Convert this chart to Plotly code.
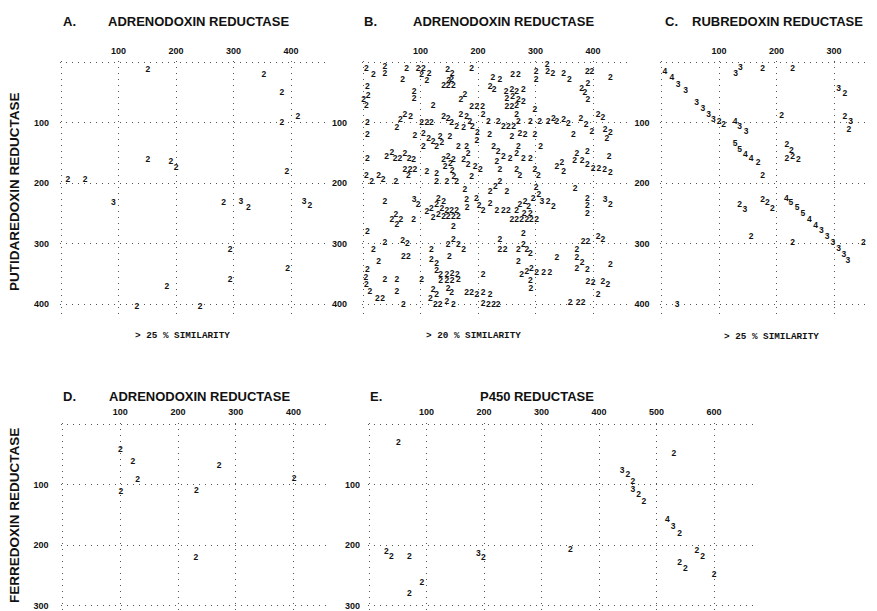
import plotly.graph_objects as go

# ---------------- data: residue positions of similarity scores ----------------
# Panel A: putidaredoxin reductase (y) vs adrenodoxin reductase (x), > 25 %
a_twos = [(151, 12), (353, 21), (384, 50), (384, 100), (412, 90), (151, 161), (191, 164),
          (200, 175), (393, 181), (12, 195), (42, 195), (283, 232), (326, 241), (433, 238),
          (294, 310), (394, 341), (294, 360), (184, 371), (132, 405), (242, 405)]
a_threes = [(91, 233), (313, 230), (423, 230)]

# Panel B: putidaredoxin reductase vs adrenodoxin reductase, > 20 %
b_twos = [
    (6, 10), (18, 21), (38, 7), (38, 19), (76, 10), (69, 29), (96, 10), (105, 10), (115, 19),
    (102, 21), (111, 30), (147, 12), (155, 19), (149, 30), (189, 10), (226, 25), (238, 29),
    (260, 21), (270, 21), (301, 15), (320, 4), (321, 16), (330, 19), (301, 29), (349, 19), (359, 29),
    (390, 16), (398, 16), (430, 26), (380, 44), (391, 36), (386, 51), (391, 62), (409, 87),
    (417, 92), (379, 94), (388, 104), (398, 115), (421, 112), (430, 117), (424, 127), (390, 148),
    (428, 156), (381, 163), (390, 170), (400, 176), (410, 176), (420, 178), (430, 183), (390, 226),
    (390, 238), (390, 250), (430, 236), (409, 289), (417, 294), (383, 297), (391, 297), (381, 332),
    (390, 344), (430, 335), (391, 363), (400, 365), (417, 363), (426, 368), (360, 398), (374, 398),
    (383, 398), (409, 384),
    (89, 49), (89, 60), (7.5, 41), (122, 72), (140, 39), (148, 39), (157, 39), (154, 29), (170, 62),
    (177, 54), (189, 73), (198, 73), (208, 73), (221, 41), (228, 46), (249, 49), (259, 46), (267, 49),
    (279, 46), (250, 60), (260, 57), (270, 62), (250, 73), (259, 73), (267, 72), (279, 65), (299, 79),
    (1, 62), (9, 56), (6, 72),
    (7.5, 100), (59, 109), (65, 95), (73, 87), (83, 90), (102, 100), (111, 100), (119, 100), (140, 90),
    (148, 93), (154, 100), (163, 107), (170, 86), (180, 90), (186, 98), (190, 106), (199, 116),
    (175, 109), (209, 87), (218, 98), (235, 98), (244, 107), (253, 107), (262, 107), (267, 86),
    (270, 98), (273, 118), (282, 120), (291, 98), (307, 98), (322, 98), (331, 94), (337, 98), (349, 95),
    (357, 102), (366, 120), (7.5, 120), (90, 122), (105, 118), (114, 126), (122, 131), (134, 123),
    (151, 123), (198, 129), (220, 120), (259, 123), (299, 120),
    (105, 140), (128, 140), (137, 133), (166, 140), (180, 140), (183, 151), (227, 140),
    (235, 148), (244, 156), (256, 159), (267, 152), (270, 140), (279, 159), (291, 159), (309, 140),
    (372, 151), (368, 163),
    (7.5, 159), (41, 156), (50, 149), (56, 159), (64, 159), (73, 151), (80, 159), (88, 162), (73, 178),
    (82, 178), (90, 178), (79, 187), (111, 181), (128, 184), (140, 162), (148, 156), (157, 162),
    (143, 173), (152, 168), (155, 180), (158, 190), (175, 162), (183, 170), (195, 173), (204, 178),
    (238, 178), (233, 164), (267, 178), (273, 188), (299, 178), (305, 187), (337, 173), (346, 167),
    (349, 181),
    (6, 188), (15, 198), (27, 187), (35, 195), (57, 198), (128, 198), (146, 198), (163, 198), (189, 189),
    (177, 211), (221, 214), (230, 206), (238, 198), (250, 214), (301, 207), (306, 219), (369, 209),
    (38, 231), (96, 236), (111, 247), (119, 242), (128, 236), (137, 242), (131, 225), (140, 231),
    (146, 245), (154, 245), (163, 245), (180, 228), (181, 240), (197, 226), (202, 238),
    (209, 245), (221, 234), (233, 245), (244, 245), (253, 245), (267, 245), (273, 236), (282, 230),
    (288, 239), (296, 225), (322, 230), (331, 239),
    (50, 261), (57, 253), (66, 261), (59, 269), (88, 261), (122, 258), (131, 253), (140, 256),
    (148, 256), (157, 256), (166, 256), (157, 272), (259, 261), (267, 261), (276, 261), (285, 261),
    (293, 261), (302, 261), (280, 251), (291, 250),
    (7.5, 281), (38, 298), (18, 310), (69, 295), (77, 300), (70, 322), (79, 322), (119, 310), (148, 302),
    (157, 293), (166, 302), (175, 310), (150, 322), (238, 293), (238, 310), (247, 310), (279, 283),
    (270, 310), (279, 302), (285, 310), (291, 317), (372, 310),
    (27, 330), (7.5, 344), (5, 357), (6, 369), (12, 379), (25, 391), (34, 391), (38, 360), (59, 360),
    (59, 379), (102, 360), (70, 401), (119, 327), (128, 334), (128, 345), (135, 352), (146, 352),
    (155, 350), (164, 352), (135, 362), (146, 362), (155, 362), (166, 360), (209, 352), (122, 377),
    (128, 385), (148, 374), (154, 382), (180, 382), (189, 382), (198, 385), (209, 382), (221, 385),
    (117, 392), (126, 402), (134, 401), (146, 396), (157, 401), (209, 399), (218, 401), (227, 401),
    (235, 401), (276, 352), (285, 346), (293, 341), (302, 349), (314, 349), (325, 349), (291, 361),
    (292, 374), (270, 330), (337, 324), (372, 324), (372, 341)]
b_threes = [(89, 228), (311, 230), (421, 228)]

# Panel C: putidaredoxin reductase vs rubredoxin reductase, > 25 %
c_twos = [(176, 10), (228, 10), (319, 52), (100, 98), (108, 104), (209, 89), (319, 90), (326, 111),
          (168, 167), (176, 188), (218, 137), (226, 147), (218, 160), (228, 156), (238, 161),
          (136, 236), (176, 227), (184, 233), (193, 242), (156, 288), (228, 298), (351, 299)]
c_threes = [(29, 37), (42, 47), (129, 19), (137, 9), (308, 44), (61, 67), (72, 76), (82, 86),
            (90, 95), (329, 99), (136, 106), (147, 115), (145, 244), (278, 279), (288, 288),
            (298, 298), (308, 308), (317, 318), (324, 328), (27, 401)]
c_fours = [(6, 15), (18, 26), (128, 98), (146, 153), (156, 160), (217, 225), (257, 260), (268, 270)]
c_fives = [(128, 134), (136, 144), (225, 232), (236, 240), (246, 250)]

# Panel D: ferredoxin reductase vs adrenodoxin reductase
d_twos = [(100, 42), (122, 62), (130, 92), (101, 113), (232, 111), (271, 70), (401, 91), (231, 222)]

# Panel E: ferredoxin reductase vs P450 reductase
e_twos = [(51, 32), (30, 211), (39, 219), (70, 220), (92, 262), (70, 280), (199, 222), (350, 208),
          (530, 50), (450, 84), (459, 95), (469, 117), (478, 128), (540, 181), (570, 209),
          (580, 219), (540, 230), (550, 240), (600, 250)]
e_threes = [(190, 214), (440, 77), (459, 109), (529, 170)]
e_fours = [(519, 159)]

# tick labels
ticks_400 = [100, 200, 300, 400]
ticks_300 = [100, 200, 300]
ticks_600 = [100, 200, 300, 400, 500, 600]

titles = {
    "A": "ADRENODOXIN REDUCTASE", "B": "ADRENODOXIN REDUCTASE", "C": "RUBREDOXIN REDUCTASE",
    "D": "ADRENODOXIN REDUCTASE", "E": "P450 REDUCTASE"}
similarity = {"A": "> 25 % SIMILARITY", "B": "> 20 % SIMILARITY", "C": "> 25 % SIMILARITY"}
row_titles = ["PUTIDAREDOXIN REDUCTASE", "FERREDOXIN REDUCTASE"]

# ---------------- layout geometry (screen pixels) ----------------
W, H = 877, 611
SHIFT = 8          # page margin of the html body: figure pixel = screen pixel - SHIFT
FONT = "Liberation Sans"
INK = "#111111"

geom = {
    "A": dict(x0=61, y0=62.5, sx=0.575, sy=0.604, xr=(-2, 460), yr=(-2, 420), xt=ticks_400, yt=ticks_400, ygap=8),
    "B": dict(x0=363, y0=62.5, sx=0.575, sy=0.604, xr=(-2, 460), yr=(-2, 420), xt=ticks_400, yt=ticks_400, ygap=12),
    "C": dict(x0=661.5, y0=62.5, sx=0.575, sy=0.604, xr=(-2, 371), yr=(-2, 420), xt=ticks_300, yt=ticks_400, ygap=8),
    "D": dict(x0=62.5, y0=424, sx=0.5775, sy=0.605, xr=(-2, 460), yr=(-2, 312), xt=ticks_400, yt=ticks_300, ygap=10),
    "E": dict(x0=369, y0=424, sx=0.575, sy=0.605, xr=(-2, 670), yr=(-2, 312), xt=ticks_600, yt=ticks_300, ygap=5),
}

panel_data = {
    "A": [("2", a_twos), ("3", a_threes)],
    "B": [("2", b_twos), ("3", b_threes)],
    "C": [("2", c_twos), ("3", c_threes), ("4", c_fours), ("5", c_fives)],
    "D": [("2", d_twos)],
    "E": [("2", e_twos), ("3", e_threes), ("4", e_fours)],
}

fig = go.Figure()
layout = dict(width=W, height=H, margin=dict(l=0, r=0, t=0, b=0),
              paper_bgcolor="white", plot_bgcolor="white", showlegend=False)

grid_style = dict(showgrid=True, gridcolor="#555555", gridwidth=1, griddash="1px,5px",
                  zeroline=False, showline=False, ticks="outside",
                  tickcolor="rgba(0,0,0,0)",
                  tickfont=dict(family=FONT, size=9, color=INK, weight="bold"))

for i, key in enumerate("ABCDE"):
    n = "" if i == 0 else str(i + 1)
    g = geom[key]
    left = g["x0"] + g["xr"][0] * g["sx"] - SHIFT
    right = g["x0"] + g["xr"][1] * g["sx"] - SHIFT
    top = g["y0"] + g["yr"][0] * g["sy"] - SHIFT
    bottom = g["y0"] + g["yr"][1] * g["sy"] - SHIFT
    xdom = [max(0, left / W), min(1, right / W)]
    ydom = [max(0, 1 - bottom / H), min(1, 1 - top / H)]
    layout["xaxis" + n] = dict(domain=xdom, range=list(g["xr"]), side="top", anchor="y" + n,
                               tickvals=[0] + g["xt"], ticktext=[""] + [str(v) for v in g["xt"]],
                               ticklen=3, **grid_style)
    layout["yaxis" + n] = dict(domain=ydom, range=[g["yr"][1], g["yr"][0]], anchor="x" + n,
                               tickvals=[0] + g["yt"], ticktext=[""] + [str(v) for v in g["yt"]],
                               ticklen=g["ygap"], **grid_style)
    for digit, pts in panel_data[key]:
        fig.add_trace(go.Scatter(
            x=[p[0] for p in pts], y=[p[1] for p in pts], mode="text",
            text=[digit] * len(pts), textposition="middle center",
            textfont=dict(family=FONT, size=8.5, color=INK, weight="bold"),
            xaxis="x" + n, yaxis="y" + n, hoverinfo="skip", cliponaxis=False))


def px(xp, yp):
    return (xp - SHIFT) / W, 1 - (yp - SHIFT) / H


ann = []


def add_text(text, xp, yp, size, family=FONT, angle=0):
    x, y = px(xp, yp)
    ann.append(dict(text=text, x=x, y=y, xref="paper", yref="paper", showarrow=False,
                    xanchor="center", yanchor="middle", textangle=angle,
                    font=dict(family=family, size=size, color=INK, weight="bold")))


# panel letters and titles
letter_pos = {"A": (70, 21.5), "B": (370, 21.5), "C": (671, 21.5), "D": (69, 396), "E": (376, 396)}
title_pos = {"A": (198, 21.5), "B": (503, 21.5), "C": (777, 21.5), "D": (199, 396), "E": (537, 396)}
for key in "ABCDE":
    add_text(key + ".", *letter_pos[key], 13)
    add_text(titles[key], *title_pos[key], 13)

sim_pos = {"A": (182, 335), "B": (473, 335), "C": (771, 336)}
for key, txt in similarity.items():
    add_text(txt, *sim_pos[key], 9.3, family="Liberation Mono")

add_text(row_titles[0], 15, 192, 13.5, angle=-90)
add_text(row_titles[1], 15, 516, 13.5, angle=-90)

layout["annotations"] = ann
fig.update_layout(**layout)
fig.write_html("out.html")
